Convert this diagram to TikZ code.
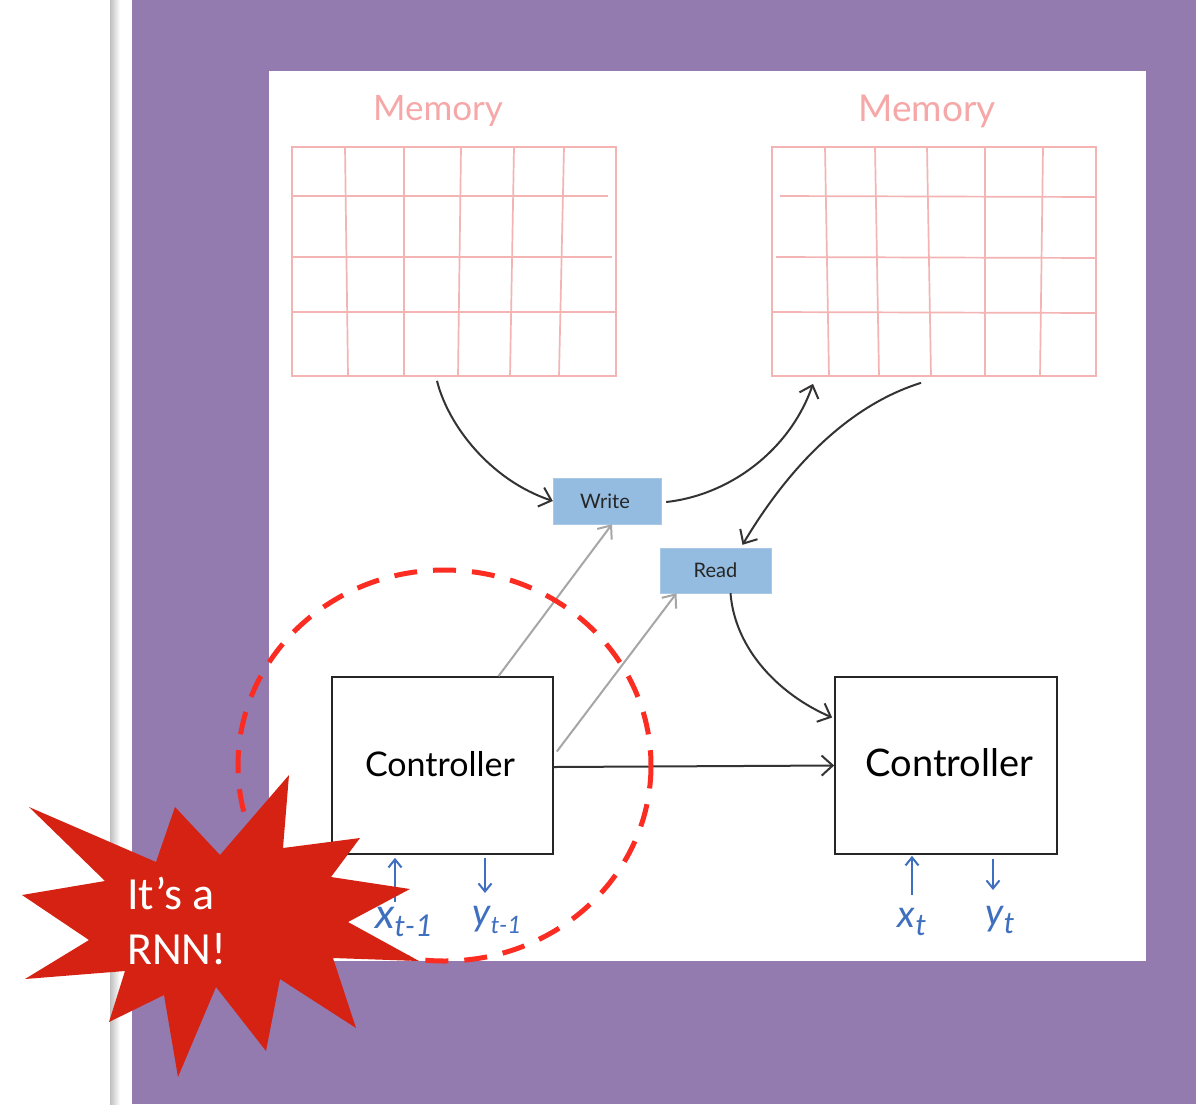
\documentclass[tikz,border=0pt]{standalone}
\usepackage{fontspec}
\setmainfont{Lato}
\newfontfamily\starfont{Carlito}
\usetikzlibrary{arrows.meta}
\definecolor{panelpurple}{HTML}{937BAF}
\definecolor{gridpink}{HTML}{F4B4B4}
\definecolor{titlepink}{HTML}{F6A8A8}
\definecolor{opblue}{HTML}{94BCE0}
\definecolor{inkblue}{HTML}{3F6FBF}
\definecolor{ringred}{HTML}{FB2C22}
\definecolor{starred}{HTML}{D52213}
\newcommand{\inkvar}[4]{\itshape\fontsize{#3}{#3}\selectfont #1\raisebox{-8pt}{\fontsize{#4}{#4}\selectfont #2}}
\tikzset{
  gridline/.style={gridpink, line width=1.7pt},
  membox/.style={draw=gridpink, line width=1.7pt, minimum width=324pt, minimum height=229pt, inner sep=0pt},
  memtitle/.style={titlepink, font=\fontsize{35}{38}\selectfont},
  opbox/.style={fill=opblue, draw=opblue!80!white, inner sep=0pt, text=black!85, font=\fontsize{20}{24}\selectfont},
  ctrlbox/.style={draw=black!85, line width=1.7pt, minimum height=177pt, inner sep=0pt},
  inkarr/.style={-{Straight Barb[length=11pt,width=20pt]}, black!80, line width=2pt},
  greyarr/.style={-{Straight Barb[length=11pt,width=18pt]}, black!35, line width=2pt},
  bluearr/.style={-{Straight Barb[length=8pt,width=13pt]}, inkblue, line width=2pt},
  inklabel/.style={inkblue, inner sep=0pt}
}
\begin{document}
\begin{tikzpicture}[x=1pt,y=-1pt]
    \useasboundingbox (0,0) rectangle (1196,1104);
    \fill[white] (0,0) rectangle (1196,1104);
    \shade[left color=black!25, right color=white] (110,0) rectangle (120,1104);
    \fill[panelpurple] (132,0) rectangle (1196,1104);
    \fill[white] (269,71) rectangle (1146,961);

    \node[membox] (memL) at (454,261.5) {};
    \node[membox] (memR) at (934,261.5) {};
    \node[memtitle] (titleL) at (438,111) {Memory};
    \node[memtitle, font=\fontsize{37}{40}\selectfont] (titleR) at (927,111) {Memory};
    \foreach \a/\b in {345/348,404/404,461/458,514/510,564/559}
      \draw[gridline] (\a,147) -- (\b,376);
    \foreach \a/\b in {825/829,875/879,927/931,985/985,1043/1040}
      \draw[gridline] (\a,147) -- (\b,376);
    \draw[gridline] (292,196) -- (608,196);
    \draw[gridline] (293,257) -- (612,257);
    \draw[gridline] (293,312) -- (616,312);
    \draw[gridline] (780,196) -- (1096,197);
    \draw[gridline] (776,257) -- (1096,258);
    \draw[gridline] (772,312) -- (1096,313);

    \node[opbox, minimum width=108pt, minimum height=46pt] (write) at (607,501) {\hspace*{-4pt}Write};
    \node[opbox, minimum width=111pt, minimum height=45pt] (read) at (715.5,570.5) {Read};
    \node[ctrlbox, minimum width=221pt, font=\fontsize{34}{36}\selectfont] (ctrlL) at (442.5,765.5) {\hspace*{-5pt}\raisebox{4pt}{Controller}};
    \node[ctrlbox, minimum width=222pt, font=\fontsize{38}{40}\selectfont] (ctrlR) at (946,765.5) {\hspace*{7pt}\raisebox{6pt}{Controller}};

    \draw[inkarr] ([shift={(-17,4)}]memL.south) .. controls (448,425) and (490,480) .. (write.west);
    \draw[inkarr] ([shift={(5,1)}]write.east) .. controls (730,495) and (790,450) .. ([shift={(-121,7)}]memR.south);
    \draw[inkarr] ([shift={(-13,6)}]memR.south) .. controls (850,405) and (790,465) .. ([shift={(27,-3)}]read.north);
    \draw[inkarr] ([shift={(15,0)}]read.south) .. controls (735,650) and (780,695) .. ([shift={(-2,-48)}]ctrlR.west);
    \draw[greyarr] ([shift={(56,0)}]ctrlL.north) -- ([shift={(5,0)}]write.south);
    \draw[greyarr] ([shift={(3,-14)}]ctrlL.east) -- ([shift={(-39,0)}]read.south);
    \draw[inkarr] ([yshift=-1.5pt]ctrlL.east) -- (ctrlR.west);

    \node[inklabel] (xprev) at (404,922) {\inkvar{x}{t-1}{42}{30}};
    \node[inklabel] (yprev) at (497,920) {\inkvar{y}{t-1}{38}{24}};
    \node[inklabel] (xcur) at (912,922) {\inkvar{x}{t}{38}{30}};
    \node[inklabel] (ycur) at (1000,920) {\inkvar{y}{t}{38}{30}};
    \draw[bluearr] ([shift={(-9,-20)}]xprev.center) -- ([shift={(-47.5,3)}]ctrlL.south);
    \draw[bluearr] ([shift={(42.5,3)}]ctrlL.south) -- ([shift={(-12,-27)}]yprev.center);
    \draw[bluearr] ([shift={(0,-27)}]xcur.center) -- ([shift={(-34,1)}]ctrlR.south);
    \draw[bluearr] ([shift={(47,4)}]ctrlR.south) -- ([shift={(-7,-30)}]ycur.center);

    \draw[ringred, line width=5pt, dash pattern=on 23pt off 16pt] (444.5,765.5) ellipse (206.5 and 195.5);

    \fill[starred] (29,807) -- (156,862) -- (175,807) -- (220,855) -- (289,775) -- (283,848)
      -- (360,838) -- (331,877) -- (410,889) -- (348,922) -- (419,961) -- (333,958)
      -- (356,1028) -- (280,979) -- (266,1051) -- (216,987) -- (178,1077) -- (164,995)
      -- (109,1022) -- (125,971) -- (25,979) -- (89,940) -- (22,895) -- (105,881) -- cycle;
    \node[white, align=left, anchor=west, inner sep=0pt, font=\starfont\fontsize{46}{55}\selectfont] (burst) at (127,921) {It’s a\\RNN!};
  \end{tikzpicture}
\end{document}
